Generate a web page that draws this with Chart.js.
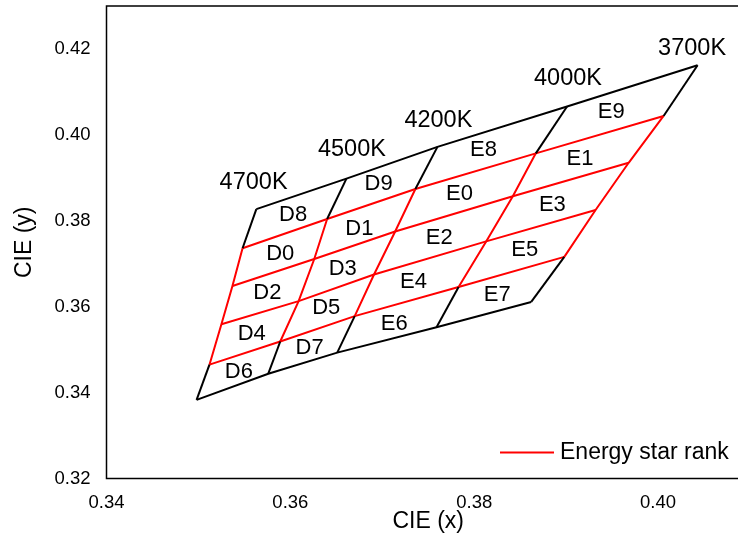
<!DOCTYPE html>
<html><head><meta charset="utf-8">
<script src="https://cdn.jsdelivr.net/npm/chart.js@4"></script>
<style>
html,body{margin:0;padding:0;overflow:hidden;background:#fff;width:738px;height:546px}
#wrap{position:absolute;left:0;top:0;width:754px;height:546px}
</style></head><body>
<div id="wrap"><canvas id="c" width="754" height="546"></canvas></div>
<script>
// ---- axis ticks ----
const xTicks = [0.34, 0.36, 0.38, 0.40];
const yTicks = [0.32, 0.34, 0.36, 0.38, 0.40, 0.42];

// ---- isotherm lines (top -> bottom; 6 nodes each) ----
const cctNames = ['4700K', '4500K', '4200K', '4000K', '3700K'];
const x4700K = [0.3563, 0.3548, 0.3537, 0.3525, 0.3512, 0.3498];
const y4700K = [0.3827, 0.3736, 0.3648, 0.3559, 0.3465, 0.3383];
const x4500K = [0.3661, 0.3640, 0.3626, 0.3609, 0.3589, 0.3576];
const y4500K = [0.3898, 0.3804, 0.3711, 0.3613, 0.3519, 0.3444];
const x4200K = [0.3760, 0.3736, 0.3714, 0.3691, 0.3670, 0.3651];
const y4200K = [0.3972, 0.3874, 0.3775, 0.3675, 0.3578, 0.3493];
const x4000K = [0.3901, 0.3867, 0.3842, 0.3813, 0.3783, 0.3759];
const y4000K = [0.4066, 0.3957, 0.3857, 0.3752, 0.3646, 0.3552];
const x3700K = [0.4043, 0.4006, 0.3968, 0.3932, 0.3898, 0.3862];
const y3700K = [0.4162, 0.4044, 0.3935, 0.3825, 0.3716, 0.3611];

// ---- CCT label positions ----
const cctLabelX = [0.3560, 0.3667, 0.3761, 0.3902, 0.4037];
const cctLabelY = [0.3890, 0.3966, 0.4033, 0.4131, 0.4200];

// ---- bin labels ----
const binNames = ['D8','D0','D2','D4','D6','D9','D1','D3','D5','D7','E8','E0','E2','E4','E6','E9','E1','E3','E5','E7'];
const binX = [0.3603,0.3589,0.3575,0.3558,0.3544,0.3696,0.3675,0.3657,0.3639,0.3621,0.3810,0.3784,0.3762,0.3734,0.3713,0.3949,0.3915,0.3885,0.3855,0.3825];
const binY = [0.3813,0.3723,0.3632,0.3537,0.3449,0.3886,0.3782,0.3689,0.3597,0.3504,0.3966,0.3862,0.3759,0.3658,0.3560,0.4053,0.3945,0.3837,0.3733,0.3627];

const seriesName = 'Energy star rank';
const FONT = "'Liberation Sans', Arial, sans-serif";

const isoX = [x4700K, x4500K, x4200K, x4000K, x3700K];
const isoY = [y4700K, y4500K, y4200K, y4000K, y3700K];

function seg(pts, color, label) {
  return { type: 'scatter', label: label || '', data: pts, showLine: true, fill: false,
    borderColor: color, backgroundColor: color, borderWidth: 2, pointRadius: 0,
    pointHoverRadius: 0, tension: 0 };
}
const datasets = [];
// black outer rows
[0, 5].forEach(h => datasets.push(seg(isoX.map((xs, v) => ({x: xs[h], y: isoY[v][h]})), '#000')));
// black outer parts of isotherms
isoX.forEach((xs, v) => {
  datasets.push(seg([0, 1].map(h => ({x: xs[h], y: isoY[v][h]})), '#000'));
  datasets.push(seg([4, 5].map(h => ({x: xs[h], y: isoY[v][h]})), '#000'));
});
// red inner rows
[1, 2, 3, 4].forEach((h, i) => datasets.push(seg(isoX.map((xs, v) => ({x: xs[h], y: isoY[v][h]})), '#ff0000', i === 0 ? seriesName : '')));
// red inner parts of isotherms
isoX.forEach((xs, v) => datasets.push(seg([1, 2, 3, 4].map(h => ({x: xs[h], y: isoY[v][h]})), '#ff0000')));

const framePlugin = {
  id: 'frame',
  afterDraw(chart) {
    const {ctx, chartArea: a} = chart;
    ctx.save();
    ctx.strokeStyle = '#000';
    ctx.lineWidth = 1.5;
    ctx.strokeRect(a.left, a.top, a.right - a.left, a.bottom - a.top);
    ctx.restore();
  }
};

const textPlugin = {
  id: 'texts',
  afterDatasetsDraw(chart) {
    const {ctx, scales: {x, y}} = chart;
    ctx.save();
    ctx.fillStyle = '#000';
    ctx.textAlign = 'center';
    ctx.textBaseline = 'middle';
    ctx.font = '22px ' + FONT;
    binNames.forEach((n, i) => ctx.fillText(n, x.getPixelForValue(binX[i]), y.getPixelForValue(binY[i])));
    ctx.font = '23.5px ' + FONT;
    cctNames.forEach((n, i) => ctx.fillText(n, x.getPixelForValue(cctLabelX[i]), y.getPixelForValue(cctLabelY[i])));
    ctx.restore();
  }
};

const legendPlugin = {
  id: 'insideLegend',
  afterDraw(chart) {
    const {ctx, chartArea: a} = chart;
    const ds = chart.data.datasets.find(d => d.label);
    if (!ds) return;
    const yy = a.bottom - 26;
    const x0 = a.right - 250;
    ctx.save();
    ctx.strokeStyle = ds.borderColor;
    ctx.lineWidth = 2;
    ctx.beginPath();
    ctx.moveTo(x0, yy);
    ctx.lineTo(x0 + 54, yy);
    ctx.stroke();
    ctx.fillStyle = '#000';
    ctx.font = '23px ' + FONT;
    ctx.textAlign = 'left';
    ctx.textBaseline = 'middle';
    ctx.fillText(ds.label, x0 + 60, yy);
    ctx.restore();
  }
};

new Chart(document.getElementById('c'), {
  type: 'scatter',
  data: { datasets },
  plugins: [framePlugin, textPlugin, legendPlugin],
  options: {
    responsive: false,
    animation: false,
    devicePixelRatio: 1,
    layout: { padding: { left: 0, right: 4, top: 6, bottom: 0 } },
    plugins: { legend: { display: false }, tooltip: { enabled: false } },
    scales: {
      x: {
        type: 'linear', min: 0.34, max: 0.41,
        afterBuildTicks: s => { s.ticks = xTicks.map(v => ({value: v})); },
        afterFit: s => { s.height = 67.5; s.paddingLeft = 0; s.paddingRight = 0; },
        grid: { display: false, drawTicks: false },
        border: { display: false },
        ticks: { color: '#000', padding: 13.5, font: { size: 18.5, family: FONT }, callback: v => v.toFixed(2) },
        title: { display: true, text: 'CIE (x)', color: '#000', font: { size: 23, family: FONT }, padding: { top: 11, bottom: 11 } }
      },
      y: {
        type: 'linear', min: 0.32, max: 0.43,
        afterBuildTicks: s => { s.ticks = yTicks.map(v => ({value: v})); },
        afterFit: s => { s.width = 106.5; s.paddingTop = 0; s.paddingBottom = 0; },
        grid: { display: false, drawTicks: false },
        border: { display: false },
        ticks: { color: '#000', padding: 16, font: { size: 18.5, family: FONT }, callback: v => v.toFixed(2) },
        title: { display: true, text: 'CIE (y)', color: '#000', font: { size: 23, family: FONT }, padding: { top: 11, bottom: 11 } }
      }
    }
  }
});
</script>
</body></html>
